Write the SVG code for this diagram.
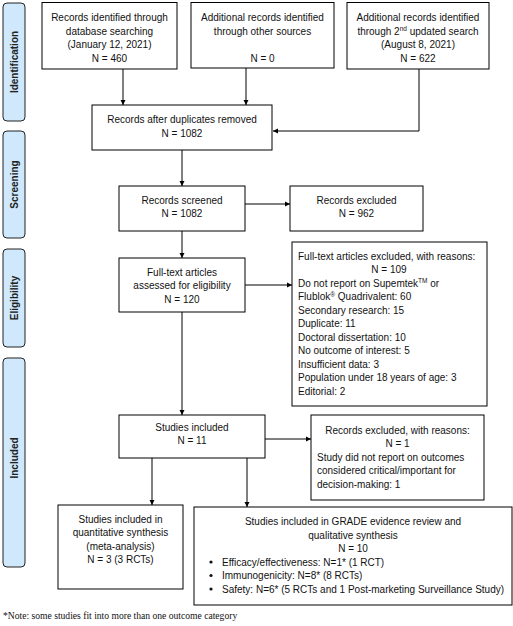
<svg xmlns="http://www.w3.org/2000/svg" width="513" height="626" viewBox="0 0 513 626">
<style>
.bx{fill:#fff;stroke:#000;stroke-width:1}
.ph{fill:#cfe8fb;stroke:#222;stroke-width:1}
.t{font-family:"Liberation Sans",Arial,sans-serif;font-size:10px;fill:#111}
.c{text-anchor:middle}
.pl{font-family:"Liberation Sans",Arial,sans-serif;font-size:10px;font-weight:bold;fill:#222;text-anchor:middle}
.ln{stroke:#000;stroke-width:1;fill:none;marker-end:url(#ah)}
.sup{font-size:6.5px}
.fn{font-family:"Liberation Serif","Times New Roman",serif;font-size:9.6px;fill:#111}
</style>
<defs>
<marker id="ah" markerWidth="6" markerHeight="6" refX="5" refY="3" orient="auto" markerUnits="userSpaceOnUse">
<path d="M0,0.5 L5,3 L0,5.5 Z" fill="#000"/>
</marker>
</defs>
<rect width="513" height="626" fill="#fff"/>
<g id="phases">
<g id="ph-identification"><rect class="ph" x="3" y="3" width="22" height="118" rx="4"/><text class="pl" transform="translate(17.5,62) rotate(-90)">Identification</text></g>
<g id="ph-screening"><rect class="ph" x="3" y="131" width="22" height="107" rx="4"/><text class="pl" transform="translate(17.5,184.5) rotate(-90)">Screening</text></g>
<g id="ph-eligibility"><rect class="ph" x="3" y="249" width="22" height="98" rx="4"/><text class="pl" transform="translate(17.5,298) rotate(-90)">Eligibility</text></g>
<g id="ph-included"><rect class="ph" x="3" y="358" width="22" height="209" rx="4"/><text class="pl" transform="translate(17.5,458) rotate(-90)">Included</text></g>
</g>
<g id="connectors">
<line class="ln" x1="123" y1="69" x2="123" y2="105"/>
<line class="ln" x1="246" y1="68" x2="246" y2="105"/>
<polyline class="ln" points="419,69 419,131 273,131"/>
<line class="ln" x1="182" y1="150" x2="182" y2="186"/>
<line class="ln" x1="245" y1="204" x2="290" y2="204"/>
<line class="ln" x1="182" y1="231" x2="182" y2="258"/>
<line class="ln" x1="245" y1="285" x2="292" y2="285"/>
<line class="ln" x1="182" y1="312" x2="182" y2="415"/>
<line class="ln" x1="265" y1="439" x2="311" y2="439"/>
<line class="ln" x1="152" y1="458" x2="152" y2="505"/>
<line class="ln" x1="247" y1="458" x2="247" y2="507"/>
</g>
<g id="n1"><rect class="bx" x="42" y="2.5" width="135" height="66.5"/>
<text class="t c" x="109.5" y="21">Records identified through</text>
<text class="t c" x="109.5" y="34.5">database searching</text>
<text class="t c" x="109.5" y="48">(January 12, 2021)</text>
<text class="t c" x="109.5" y="61.5">N = 460</text></g>
<g id="n2"><rect class="bx" x="191" y="2.5" width="143" height="65.5"/>
<text class="t c" x="262.5" y="21">Additional records identified</text>
<text class="t c" x="262.5" y="34.5">through other sources</text>
<text class="t c" x="262.5" y="61.5">N = 0</text></g>
<g id="n3"><rect class="bx" x="347" y="2.5" width="142" height="66.5"/>
<text class="t c" x="418" y="21">Additional records identified</text>
<text class="t c" x="418" y="34.5">through 2<tspan class="sup" dy="-3.5">nd</tspan><tspan dy="3.5"> updated search</tspan></text>
<text class="t c" x="418" y="48">(August 8, 2021)</text>
<text class="t c" x="418" y="61.5">N = 622</text></g>
<g id="n4"><rect class="bx" x="92" y="105" width="180" height="45"/>
<text class="t c" x="182" y="123">Records after duplicates removed</text>
<text class="t c" x="182" y="136.5">N = 1082</text></g>
<g id="n5"><rect class="bx" x="119" y="186" width="126" height="45"/>
<text class="t c" x="182" y="203.5">Records screened</text>
<text class="t c" x="182" y="217">N = 1082</text></g>
<g id="n6"><rect class="bx" x="290" y="186" width="133" height="45"/>
<text class="t c" x="356.5" y="203.5">Records excluded</text>
<text class="t c" x="356.5" y="217">N = 962</text></g>
<g id="n7"><rect class="bx" x="119" y="258" width="126" height="54"/>
<text class="t c" x="182" y="275.5">Full-text articles</text>
<text class="t c" x="182" y="289">assessed for eligibility</text>
<text class="t c" x="182" y="302.5">N = 120</text></g>
<g id="n8"><rect class="bx" x="292" y="242" width="195" height="164"/>
<text class="t" x="298" y="259.5">Full-text articles excluded, with reasons:</text>
<text class="t c" x="389" y="273">N = 109</text>
<text class="t" x="298" y="286.5">Do not report on Supemtek<tspan class="sup" dy="-3.5">TM</tspan><tspan dy="3.5"> or</tspan></text>
<text class="t" x="298" y="300">Flublok<tspan class="sup" dy="-3.5">®</tspan><tspan dy="3.5"> Quadrivalent: 60</tspan></text>
<text class="t" x="298" y="313.5">Secondary research: 15</text>
<text class="t" x="298" y="327">Duplicate: 11</text>
<text class="t" x="298" y="340.5">Doctoral dissertation: 10</text>
<text class="t" x="298" y="354">No outcome of interest: 5</text>
<text class="t" x="298" y="367.5">Insufficient data: 3</text>
<text class="t" x="298" y="381">Population under 18 years of age: 3</text>
<text class="t" x="298" y="394.5">Editorial: 2</text></g>
<g id="n9"><rect class="bx" x="119" y="415" width="146" height="43"/>
<text class="t c" x="192" y="430.5">Studies included</text>
<text class="t c" x="192" y="444">N = 11</text></g>
<g id="n10"><rect class="bx" x="311" y="415" width="173" height="85"/>
<text class="t c" x="397.5" y="433.5">Records excluded, with reasons:</text>
<text class="t c" x="397.5" y="447">N = 1</text>
<text class="t" x="317" y="460.5">Study did not report on outcomes</text>
<text class="t" x="317" y="474">considered critical/important for</text>
<text class="t" x="317" y="487.5">decision-making: 1</text></g>
<g id="n11"><rect class="bx" x="58" y="505" width="125" height="84"/>
<text class="t c" x="120.5" y="522.5">Studies included in</text>
<text class="t c" x="120.5" y="536">quantitative synthesis</text>
<text class="t c" x="120.5" y="549.5">(meta-analysis)</text>
<text class="t c" x="120.5" y="563">N = 3 (3 RCTs)</text></g>
<g id="n12"><rect class="bx" x="194" y="507" width="318" height="98"/>
<text class="t c" x="353" y="524.5">Studies included in GRADE evidence review and</text>
<text class="t c" x="353" y="538.5">qualitative synthesis</text>
<text class="t c" x="353" y="551.5">N = 10</text>
<circle cx="211" cy="562" r="1.6" fill="#111"/><text class="t" x="222" y="565.5">Efficacy/effectiveness: N=1* (1 RCT)</text>
<circle cx="211" cy="575.5" r="1.6" fill="#111"/><text class="t" x="222" y="579">Immunogenicity: N=8* (8 RCTs)</text>
<circle cx="211" cy="589" r="1.6" fill="#111"/><text class="t" x="222" y="592.5">Safety: N=6* (5 RCTs and 1 Post-marketing Surveillance Study)</text></g>
<text class="fn" x="3" y="619">*Note: some studies fit into more than one outcome category</text>
</svg>
